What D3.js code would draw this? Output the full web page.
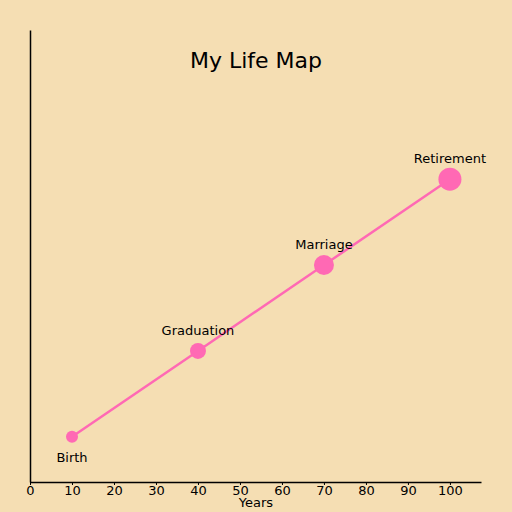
<!DOCTYPE html>
<html><head><meta charset="utf-8">
<script src="https://cdn.jsdelivr.net/npm/d3@7"></script>
<style>body{margin:0;background:#f5deb3}svg{display:block}</style>
</head><body><svg width="512" height="512"></svg>
<script>
const events = ["Birth","Graduation","Marriage","Retirement"];
const years = [10,40,70,100];
const values = [1,2.9,4.8,6.7];
const sizes = [6,8,10,11.5];
const xTicks = [0,10,20,30,40,50,60,70,80,90,100];

const svg = d3.select("svg");
svg.append("rect").attr("width",512).attr("height",512).attr("fill","#f5deb3");
const x = d3.scaleLinear().domain([0,107.4]).range([30,481]);
const y = d3.scaleLinear().domain([0,10]).range([482,30]);
const font = "DejaVu Sans, sans-serif";

const xa = svg.append("g").attr("transform","translate(0,482)")
  .call(d3.axisBottom(x).tickValues(xTicks).tickSize(3).tickSizeOuter(0));
xa.select(".domain").attr("stroke","#000").attr("stroke-width",1.5);
xa.selectAll("text").attr("font-family",font).attr("font-size",13).attr("fill","#000").attr("dy","0.5em");
const ya = svg.append("g").attr("transform","translate(30,0)")
  .call(d3.axisLeft(y).tickValues([]).tickSizeOuter(0));
ya.select(".domain").attr("stroke","#000").attr("stroke-width",1.5);

const pts = years.map((d,i)=>[x(d),y(values[i])]);
svg.append("path").attr("d",d3.line()(pts)).attr("fill","none").attr("stroke","#ff69b4").attr("stroke-width",2.5);
svg.selectAll("circle.p").data(years).join("circle")
  .attr("cx",d=>x(d)).attr("cy",(d,i)=>y(values[i])).attr("r",(d,i)=>sizes[i]).attr("fill","#ff69b4");
svg.selectAll("text.l").data(events).join("text")
  .attr("x",(d,i)=>x(years[i])).attr("y",(d,i)=>i===0? y(values[i])+25 : y(values[i])-16)
  .attr("text-anchor","middle").attr("font-family",font).attr("font-size",13).attr("fill","#000").text(d=>d);
svg.append("text").attr("x",256).attr("y",68).attr("text-anchor","middle").attr("font-family",font).attr("font-size",22).text("My Life Map");
svg.append("text").attr("x",256).attr("y",507).attr("text-anchor","middle").attr("font-family",font).attr("font-size",13).text("Years");
</script></body></html>
